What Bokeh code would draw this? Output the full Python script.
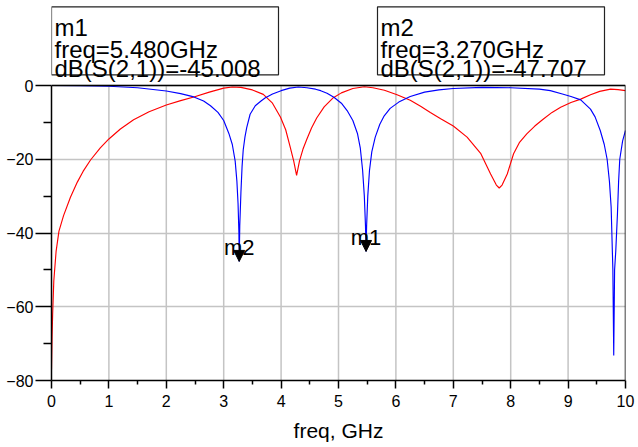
from bokeh.plotting import figure
from bokeh.models import FixedTicker, Arrow, NormalHead, ColumnDataSource, Range1d
from bokeh.core.properties import value
from bokeh.embed import file_html
from bokeh.resources import INLINE

# ---- data ----
x_ticks = [0, 1, 2, 3, 4, 5, 6, 7, 8, 9, 10]
x_minor = [0.5, 1.5, 2.5, 3.5, 4.5, 5.5, 6.5, 7.5, 8.5, 9.5]
y_ticks = [0, -20, -40, -60, -80]
y_minor = [-10, -30, -50, -70]

blue_freq = [0.0, 0.5, 1.0, 1.5, 2.0, 2.25, 2.48, 2.65, 2.77, 2.9, 3.0, 3.09, 3.15, 3.2, 3.23,
             3.25, 3.265, 3.27, 3.28, 3.30, 3.32, 3.34, 3.37, 3.40, 3.46, 3.55, 3.65, 3.72,
             3.85, 4.0, 4.15, 4.3, 4.45, 4.6, 4.69, 4.8, 4.92, 5.05, 5.15, 5.25, 5.33, 5.38,
             5.42, 5.45, 5.47, 5.48, 5.49, 5.51, 5.54, 5.58, 5.64, 5.72, 5.79, 5.9, 6.05,
             6.25, 6.5, 6.75, 7.0, 7.5, 8.0, 8.5, 8.69, 8.9, 9.05, 9.22, 9.39, 9.47, 9.56,
             9.63, 9.68, 9.72, 9.75, 9.78, 9.795, 9.81, 9.83, 9.86, 9.88, 9.9, 9.95, 10.0]
blue_db = [0.0, -0.05, -0.2, -0.6, -1.5, -2.2, -3.1, -4.2, -5.5, -7.3, -9.5, -13, -16, -20.5, -26,
           -32, -40, -47.7, -38, -29, -22, -17.5, -14, -11.5, -7.8, -5.5, -4.2, -3.4,
           -2.3, -1.4, -0.7, -0.4, -0.6, -1.0, -1.4, -2.1, -3.2, -4.8, -6.8, -9.5, -13, -17,
           -23, -30, -38, -45.0, -38, -30, -23, -18, -14, -10.5, -8.4, -6.2, -4.5,
           -3.0, -1.8, -1.2, -0.8, -0.5, -0.6, -1.0, -1.4, -2.3, -3.0, -3.9, -6.4, -8.5, -12.2,
           -16, -20, -26, -33, -50, -73.2, -50, -45, -34.8, -26, -20, -15, -12.2]

red_freq = [0.0, 0.01, 0.02, 0.04, 0.08, 0.13, 0.21, 0.33, 0.45, 0.55, 0.68, 0.85, 1.0, 1.2,
            1.43, 1.7, 2.0, 2.25, 2.48, 2.75, 3.0, 3.15, 3.3, 3.5, 3.69, 3.85, 3.99, 4.08,
            4.16, 4.22, 4.27, 4.32, 4.38, 4.45, 4.53, 4.62, 4.75, 4.91, 5.05, 5.25, 5.45,
            5.6, 5.8, 6.02, 6.25, 6.43, 6.6, 6.78, 7.0, 7.24, 7.48, 7.65, 7.75, 7.8, 7.85, 7.94,
            8.05, 8.15, 8.28, 8.42, 8.57, 8.72, 8.87, 9.05, 9.22, 9.39, 9.55, 9.74, 9.87, 10.0]
red_db = [-77, -68, -62, -53, -45, -39.5, -35.3, -30.3, -26.2, -23.3, -20.2, -16.9, -14.5, -11.8,
          -9.3, -7.1, -5.3, -4.1, -3.1, -1.8, -0.7, -0.4, -0.5, -1.2, -2.4, -4.8, -8.6, -12,
          -16.8, -20.5, -24.4, -20.5, -17.3, -14.5, -11.5, -8.8, -5.8, -3.3, -2.0, -0.8, -0.35,
          -0.6, -1.3, -2.5, -4.0, -5.6, -7.3, -9.0, -11.0, -14.0, -18.5, -24, -27, -27.8, -27, -24,
          -18.5, -15.5, -13.1, -11, -9.1, -7.3, -5.9, -4.6, -3.7, -2.5, -1.6, -1.0, -1.1, -1.4]

marker_names = ["m1", "m2"]
marker_freq = [5.480, 3.270]
marker_db = [-45.008, -47.707]

# ---- layout (pixels) ----
W, H = 638, 447
LEFT, RIGHT = 51, 13
TOP_PX = 85                  # room above 0 dB for the marker readouts
PLOT_H = 295                 # height of the -80..0 dB area
BOTTOM = H - TOP_PX - PLOT_H
FRAME_W = W - LEFT - RIGHT
DB_PX = PLOT_H / (y_ticks[0] - y_ticks[-1])
GHZ_PX = FRAME_W / (x_ticks[-1] - x_ticks[0])
y_top = y_ticks[0] + TOP_PX / DB_PX

p = figure(width=W, height=H, output_backend="svg", toolbar_location=None,
           x_range=Range1d(x_ticks[0], x_ticks[-1]), y_range=Range1d(y_ticks[-1], y_top),
           min_border_left=LEFT, min_border_right=RIGHT, min_border_top=0,
           min_border_bottom=BOTTOM)
p.background_fill_color = "white"
p.border_fill_color = "white"
p.outline_line_color = None

p.xaxis.ticker = FixedTicker(ticks=x_ticks, minor_ticks=x_minor)
p.yaxis.ticker = FixedTicker(ticks=y_ticks, minor_ticks=y_minor)
p.yaxis.bounds = (y_ticks[-1], y_ticks[0])
p.xgrid.visible = False
p.ygrid.grid_line_color = "#c4c4c4"
p.ygrid.grid_line_width = 1.5

for ax in (p.xaxis[0], p.yaxis[0]):
    ax.axis_line_color = "black"
    ax.axis_line_width = 1.5
    ax.major_tick_line_color = "black"
    ax.major_tick_line_width = 1.5
    ax.minor_tick_line_color = "black"
    ax.minor_tick_line_width = 1.5
    ax.major_tick_in = 0
    ax.minor_tick_in = 0
    ax.major_label_text_font = "Liberation Sans"
    ax.major_label_text_font_size = "16px"
    ax.major_label_text_color = "black"

p.yaxis.major_tick_out = 16
p.yaxis.minor_tick_out = 8
p.yaxis.major_label_standoff = 2
p.xaxis.major_tick_out = 8
p.xaxis.minor_tick_out = 4
p.xaxis.major_label_standoff = 6

p.xaxis.axis_label = "freq, GHz"
p.xaxis.axis_label_text_font = "Liberation Sans"
p.xaxis.axis_label_text_font_size = "21px"
p.xaxis.axis_label_text_font_style = "normal"
p.xaxis.axis_label_text_color = "black"
p.xaxis.axis_label_standoff = 9

# vertical grid lines, limited to the data area
gx = x_ticks[1:-1]
p.segment(x0=gx, y0=[y_ticks[-1]] * len(gx), x1=gx, y1=[y_ticks[0]] * len(gx),
          line_color="#c4c4c4", line_width=1.5)

# ---- traces ----
p.line(red_freq, red_db, line_color="#ff0000", line_width=1.15)
p.line(blue_freq, blue_db, line_color="#0000ff", line_width=1.15)

# frame: top and right borders of the data area
p.segment(x0=[x_ticks[0], x_ticks[-1]], y0=[y_ticks[0], y_ticks[-1]],
          x1=[x_ticks[-1], x_ticks[-1]], y1=[y_ticks[0], y_ticks[0]],
          line_color="black", line_width=1.5)

# ---- markers ----
msrc = ColumnDataSource(dict(
    x=marker_freq, y=marker_db, ys=[d + 2 for d in marker_db], name=marker_names))
p.add_layout(Arrow(end=NormalHead(size=11, fill_color="black", line_color="black"),
                   x_start="x", y_start="ys", x_end="x", y_end="y",
                   line_alpha=0, source=msrc))
p.text(x="x", y="y", text="name", source=msrc, y_offset=-14,
       text_align="center", text_baseline="alphabetic",
       text_font=value("Liberation Sans"), text_font_size="22px", text_color="black")

# ---- marker readout boxes (above the 0 dB line) ----
box_left_px = [0, 326]
BOX_W, BOX_TOP, BOX_BOT = 227, 78.7, 10.7
LINE_BASE = [58, 36, 16.6]
bl = [x_ticks[0] + v / GHZ_PX for v in box_left_px]
p.quad(left=bl, right=[b + BOX_W / GHZ_PX for b in bl],
       bottom=[y_ticks[0] + BOX_BOT / DB_PX] * 2, top=[y_ticks[0] + BOX_TOP / DB_PX] * 2,
       fill_color="white", line_color="#222222", line_width=1.2)
tx, ty, tt = [], [], []
for name, f, d, b in zip(marker_names, marker_freq, marker_db, bl):
    lines = [name, f"freq={f:.3f}GHz", f"dB(S(2,1))={d:.3f}"]
    for ln, base in zip(lines, LINE_BASE):
        tx.append(b)
        ty.append(y_ticks[0] + base / DB_PX)
        tt.append(ln)
p.text(x=tx, y=ty, text=tt, x_offset=3, text_align="left", text_baseline="alphabetic",
       text_font=value("Liberation Sans"), text_font_size="24px", text_color="black")

open("out.html", "w").write(file_html(p, INLINE))
